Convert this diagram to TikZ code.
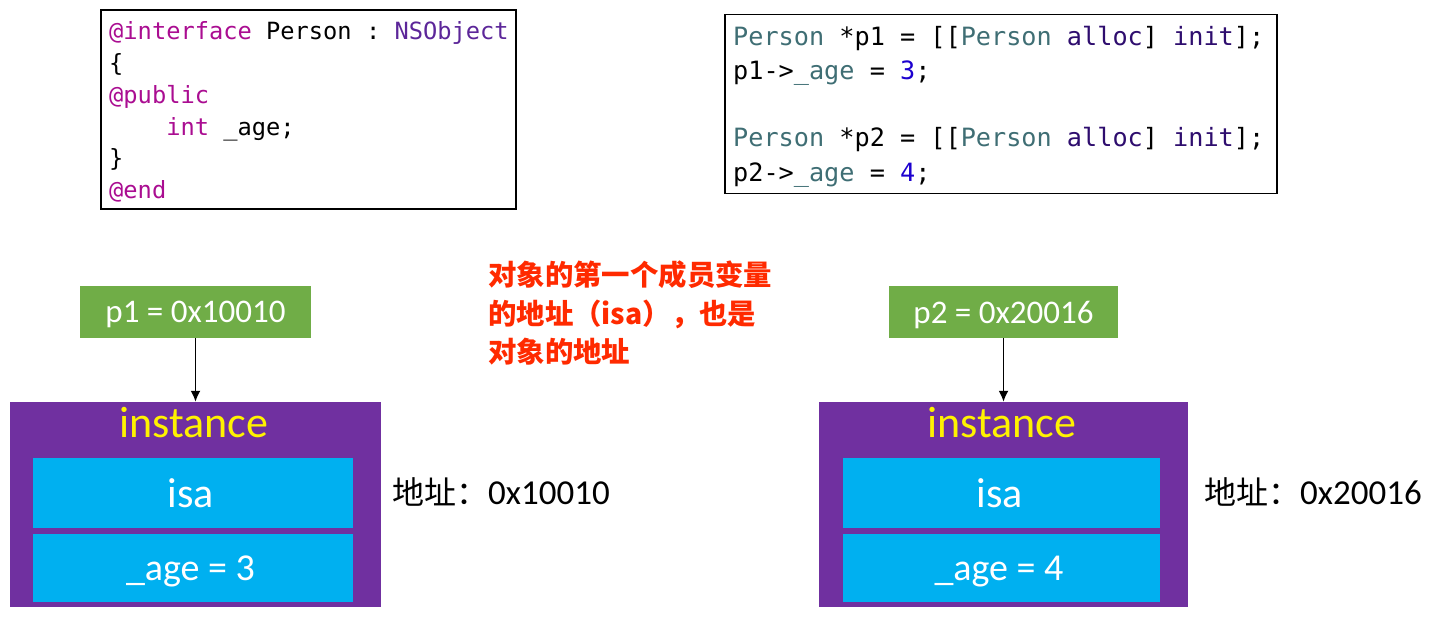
\documentclass[tikz,border=0pt]{standalone}
\usepackage{fontspec}
\setmainfont{Carlito}
\setmonofont{DejaVu Sans Mono}
\newfontfamily\cjk{Noto Sans CJK SC}
\usetikzlibrary{arrows.meta}
\definecolor{kw}{HTML}{AA0D91}
\definecolor{cls}{HTML}{5C2699}
\definecolor{tl}{HTML}{3F6E74}
\definecolor{msg}{HTML}{2E0D6E}
\definecolor{num}{HTML}{1C00CF}
\definecolor{grn}{HTML}{70AD47}
\definecolor{purp}{HTML}{7030A0}
\definecolor{cyanb}{HTML}{00B0F0}
\definecolor{redt}{HTML}{FF2A00}
\newcommand\Sp{\hspace*{0.6021em}}
\begin{document}
\begin{tikzpicture}[x=1pt,y=-1pt,
  codebox/.style={draw=black,line width=1.2pt,inner sep=0pt},
  codeA/.style={anchor=base west,inner sep=0pt,font=\ttfamily\fontsize{23.7}{23.7}\selectfont},
  codeB/.style={anchor=base west,inner sep=0pt,font=\ttfamily\fontsize{25.2}{25.2}\selectfont},
  ptrbox/.style={fill=grn,text=white,inner sep=0pt,text depth=0pt,minimum width=231pt,minimum height=52pt,font=\fontsize{33}{33}\selectfont},
  instbox/.style={fill=purp,inner sep=0pt,minimum width=371pt,minimum height=205pt},
  fieldbox/.style={fill=cyanb,inner sep=0pt,minimum width=320pt},
  lbl/.style={anchor=base,inner sep=0pt},
  addr/.style={anchor=west,inner sep=0pt,font=\fontsize{35}{35}\selectfont},
  link/.style={-{Latex[length=11pt,width=10pt]},line width=1.8pt}
]
\useasboundingbox (0,0) rectangle (1442,620);

% code box 1
\node[codebox,minimum width=415pt,minimum height=199pt] (code1) at (308.5,109.5) {};
\node[codeA] (c1l1) at (109,39.5) {\textcolor{kw}{@interface}\Sp Person\Sp :\Sp\textcolor{cls}{NSObject}};
\node[codeA] (c1l2) at (109,71.5) {\{};
\node[codeA] (c1l3) at (109,103.5) {\textcolor{kw}{@public}};
\node[codeA] (c1l4) at (109,135.5) {\Sp\Sp\Sp\Sp\textcolor{kw}{int}\Sp\_age;};
\node[codeA] (c1l5) at (109,167) {\}};
\node[codeA] (c1l6) at (109,199) {\textcolor{kw}{@end}};

% code box 2
\node[codebox,minimum width=552pt,minimum height=179pt] (code2) at (1001,104) {};
\node[codeB] (c2l1) at (733,46) {\textcolor{tl}{Person}\Sp *p1\Sp =\Sp [[\textcolor{tl}{Person}\Sp\textcolor{msg}{alloc}]\Sp\textcolor{msg}{init}];};
\node[codeB] (c2l2) at (733,80) {p1->\textcolor{tl}{\_age}\Sp =\Sp\textcolor{num}{3};};
\node[codeB] (c2l3) at (733,147) {\textcolor{tl}{Person}\Sp *p2\Sp =\Sp [[\textcolor{tl}{Person}\Sp\textcolor{msg}{alloc}]\Sp\textcolor{msg}{init}];};
\node[codeB] (c2l4) at (733,182) {p2->\textcolor{tl}{\_age}\Sp =\Sp\textcolor{num}{4};};

% note
\node[anchor=west,inner sep=0pt,align=left,text=redt,font=\cjk\bfseries\fontsize{28.4}{38.5}\selectfont] (note) at (488,313)
 {对象的第一个成员变量\\的地址（isa），也是\\对象的地址};

% left object
\node[ptrbox] (g1) at (195.5,312) {p1 = 0x10010};
\node[instbox] (inst1) at (195.5,504.5) {};
\node[lbl,text=yellow,font=\fontsize{44}{44}\selectfont] (lbl1) at (194,437) {instance};
\node[fieldbox,minimum height=70pt] (isa1) at (193,493) {};
\node[lbl,text=white,font=\fontsize{42}{42}\selectfont] (isat1) at (191,507) {isa};
\node[fieldbox,minimum height=68pt] (age1) at (193,568) {};
\node[lbl,text=white,font=\fontsize{38}{38}\selectfont] (aget1) at (190.5,580) {\_age = 3};
\node[addr] (addr1) at (392,492) {{\cjk\fontsize{32}{32}\selectfont 地址：}0x10010};
\draw[link] (g1.south) -- (inst1.north);

% right object
\node[ptrbox,minimum width=229pt] (g2) at (1003.5,312) {p2 = 0x20016};
\node[instbox,minimum width=369pt] (inst2) at (1003.5,504.5) {};
\node[lbl,text=yellow,font=\fontsize{44}{44}\selectfont] (lbl2) at (1002,437) {instance};
\node[fieldbox,minimum width=317pt,minimum height=70pt] (isa2) at (1001.5,493) {};
\node[lbl,text=white,font=\fontsize{42}{42}\selectfont] (isat2) at (999.5,507) {isa};
\node[fieldbox,minimum width=317pt,minimum height=68pt] (age2) at (1001.5,568) {};
\node[lbl,text=white,font=\fontsize{38}{38}\selectfont] (aget2) at (999,580) {\_age = 4};
\node[addr] (addr2) at (1204,492) {{\cjk\fontsize{32}{32}\selectfont 地址：}0x20016};
\draw[link] (g2.south) -- (inst2.north);
\end{tikzpicture}
\end{document}
